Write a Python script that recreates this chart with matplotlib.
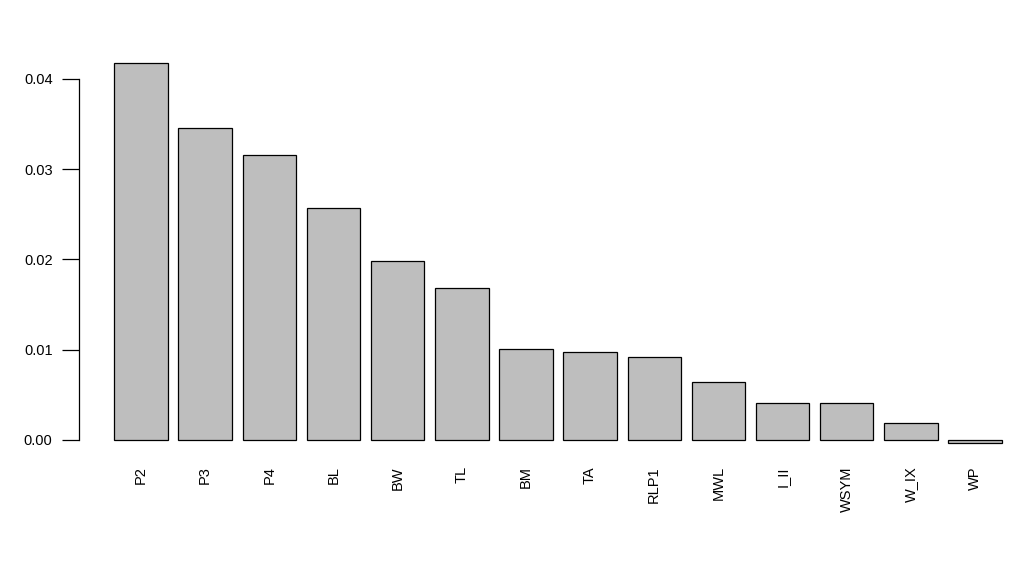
import matplotlib
matplotlib.use("Agg")
import matplotlib.pyplot as plt
import numpy as np

categories = ["P2", "P3", "P4", "BL", "BW", "TL", "BM", "TA", "RLP1", "MWL",
              "I_II", "WSYM", "W_IX", "WP"]
values = [0.04178, 0.03455, 0.03156, 0.02569, 0.01982, 0.01683, 0.01008,
          0.00975, 0.00919, 0.00639, 0.00413, 0.00413, 0.00188, -0.00037]
yticks = [0.00, 0.01, 0.02, 0.03, 0.04]
ytick_labels = ["0.00", "0.01", "0.02", "0.03", "0.04"]

plt.rcParams['font.family'] = ['Liberation Sans', 'DejaVu Sans']

W, H = 1020, 576
fig = plt.figure(figsize=(W / 100, H / 100), dpi=100)

# pixel geometry of the plot region
px_left, px_right = 79, 1020
px_top, px_bottom = 47.5, 458.6
ax = fig.add_axes([px_left / W, 1 - px_bottom / H,
                   (px_right - px_left) / W, (px_bottom - px_top) / H])

unit = 53.46
x0_px = 114.3
xmin = 0.2 - (x0_px - px_left) / unit
xmax = 0.2 + (px_right - x0_px) / unit

n = len(categories)
centers = 0.7 + 1.2 * np.arange(n)
ax.bar(centers, values, width=1.0, color="#bebebe", edgecolor="black",
       linewidth=0.9)

ax.set_xlim(xmin, xmax)
ax.set_ylim(-0.00206, 0.04347)

for s in ["top", "right", "bottom"]:
    ax.spines[s].set_visible(False)
ax.spines["left"].set_bounds(0, 0.04)
ax.spines["left"].set_linewidth(0.9)

ax.set_yticks(yticks)
ax.set_yticklabels(ytick_labels)
ax.tick_params(axis="y", length=12, width=0.9, pad=7, labelsize=10.5)

ax.set_xticks([])
for c, lab in zip(centers, categories):
    ax.text(c, -0.0029, lab, rotation=90, ha="center", va="top",
            fontsize=10.5)

fig.savefig("out.png", dpi=100)
